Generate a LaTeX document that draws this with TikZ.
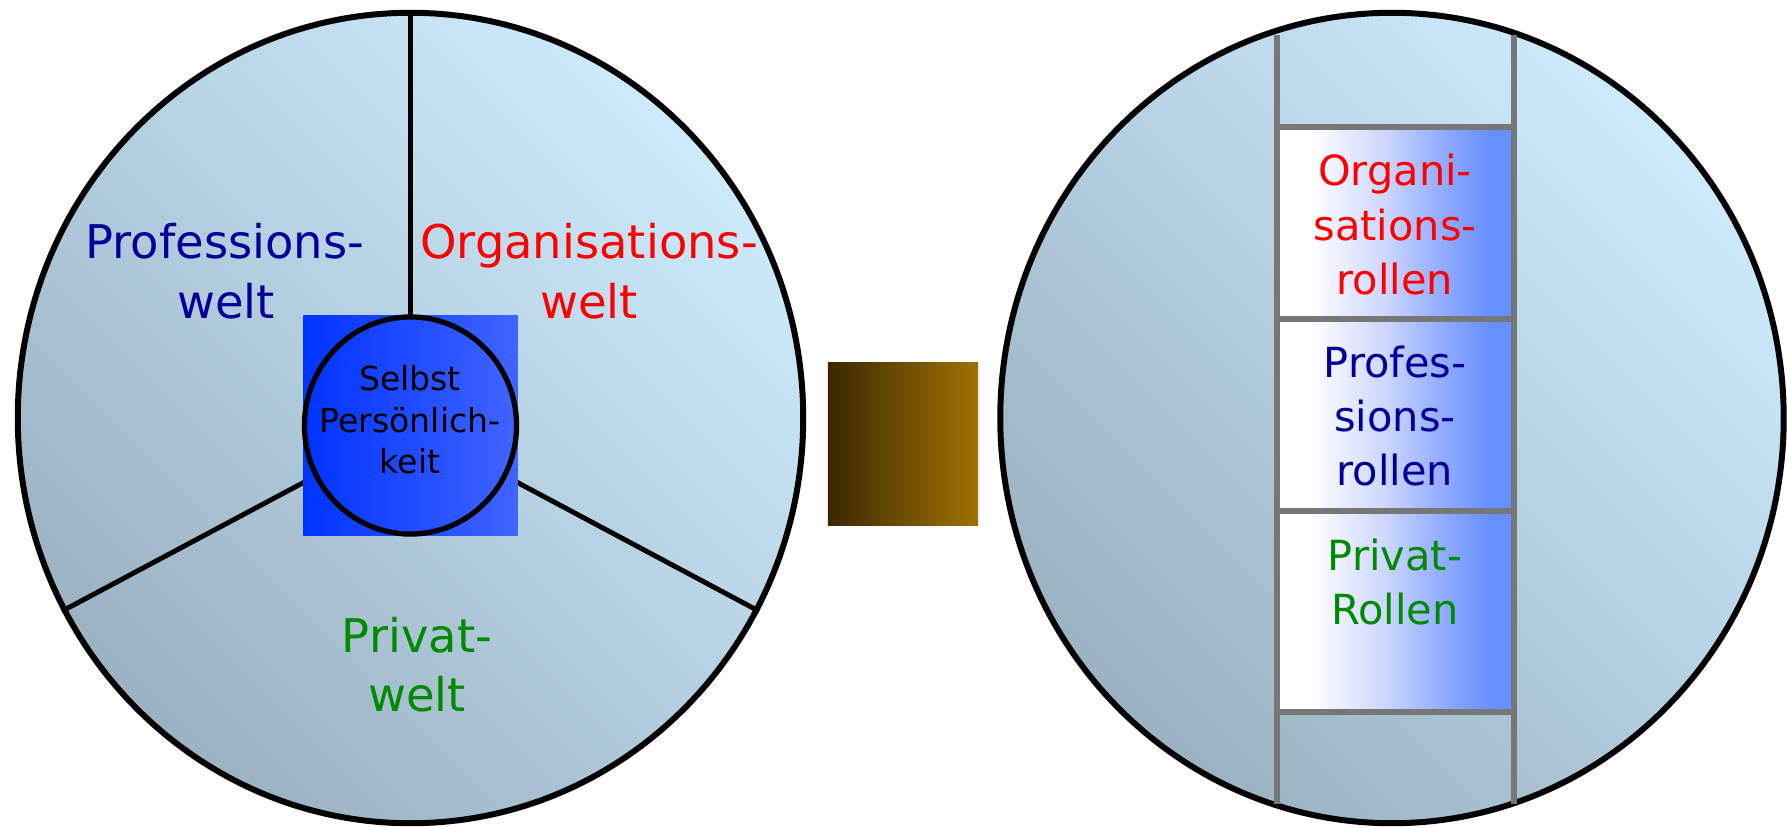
\documentclass[tikz,border=0pt]{standalone}
\usepackage{fontspec}
\setmainfont{DejaVu Sans}
\usetikzlibrary{shapes.geometric}
\definecolor{bgtop}{HTML}{CDEBFD}
\definecolor{bgbot}{HTML}{9AB2C2}
\definecolor{navy}{HTML}{000099}
\definecolor{grn}{HTML}{008A00}
\definecolor{rd}{HTML}{FF0000}
\definecolor{sqL}{HTML}{0033FF}
\definecolor{sqR}{HTML}{4064FF}
\definecolor{brL}{HTML}{3A2800}
\definecolor{brR}{HTML}{A07200}
\definecolor{railgray}{HTML}{777777}
\definecolor{rb}{HTML}{6690FF}
\definecolor{rbmid}{HTML}{CCD6FF}
\definecolor{rbmid2}{HTML}{95AEFF}
\pgfdeclarehorizontalshading{boxshade}{100bp}{color(0bp)=(white); color(32bp)=(white); color(48bp)=(rbmid); color(59bp)=(rbmid2); color(70bp)=(rb); color(100bp)=(rb)}
\tikzset{
  world/.style={ellipse, draw=black, line width=1.7pt, top color=bgtop, bottom color=bgbot, shading angle=-45, minimum width=7.85cm, minimum height=8.1cm, inner sep=0pt},
  spoke/.style={draw=black, line width=1.4pt},
  lbl/.style={anchor=base, inner sep=0pt, font=\fontsize{13.2}{16}\selectfont},
  boxlbl/.style={anchor=base, inner sep=0pt, font=\fontsize{11.8}{14}\selectfont},
  selflbl/.style={anchor=base, inner sep=0pt, font=\fontsize{9.4}{11}\selectfont},
  rail/.style={draw=railgray, line width=1.8pt},
  rolebox/.style={rectangle, shade, shading=boxshade, minimum width=2.37cm, inner sep=0pt},
  bluefill/.style={left color=sqL, right color=sqR, inner sep=0pt}
}
\begin{document}
\begin{tikzpicture}[x=0.01cm, y=-0.01cm]
\useasboundingbox (0,0) rectangle (1787,827);
% left world
\node[world] (L) at (410.5,418) {};
\coordinate (c) at (410.5,425.5);
\draw[spoke] (L.north) -- (c);
\draw[spoke] (L.209) -- (c);
\draw[spoke] (L.-29) -- (c);
\node[bluefill, rectangle, minimum width=2.14cm, minimum height=2.19cm] (Q) at (c) {};
\node[bluefill, ellipse, draw=black, line width=1.5pt, minimum width=2.12cm, minimum height=2.17cm] (S) at (c) {};
\node[selflbl] (s1) at (410,390) {Selbst};
\node[selflbl] (s2) at (410,432) {Persönlich-};
\node[selflbl] (s3) at (410,473) {keit};
\node[lbl, text=navy] (p1) at (225,258) {Professions-};
\node[lbl, text=navy] (p2) at (226,318) {welt};
\node[lbl, text=rd] (o1) at (589,258) {Organisations-};
\node[lbl, text=rd] (o2) at (589,318) {welt};
\node[lbl, text=grn] (v1) at (417,652) {Privat-};
\node[lbl, text=grn] (v2) at (417,711) {welt};
% middle block
\node[rectangle, left color=brL, right color=brR, minimum width=1.5cm, minimum height=1.62cm, inner sep=0pt] (M) at (903,444) {};
% right world
\node[world, minimum width=7.83cm] (R) at (1392,418) {};
\node[rolebox, minimum height=1.92cm] (B1) at (1395.5,224) {};
\node[rolebox, minimum height=1.92cm] (B2) at (1395.5,416) {};
\node[rolebox, minimum height=1.99cm] (B3) at (1395.5,611.5) {};
\coordinate (r1t) at (1277,35);
\coordinate (r1b) at (1277,804);
\coordinate (r2t) at (1514,35);
\coordinate (r2b) at (1514,804);
\draw[rail] (r1t) -- (r1b);
\draw[rail] (r2t) -- (r2b);
\draw[rail] (B1.north west) -- (B1.north east);
\draw[rail] (B2.north west) -- (B2.north east);
\draw[rail] (B3.north west) -- (B3.north east);
\draw[rail] (B3.south west) -- (B3.south east);
\node[boxlbl, text=rd] (t1) at (1395,185) {Organi-};
\node[boxlbl, text=rd] (t2) at (1395,240) {sations-};
\node[boxlbl, text=rd] (t3) at (1395,294) {rollen};
\node[boxlbl, text=navy] (t4) at (1395,377) {Profes-};
\node[boxlbl, text=navy] (t5) at (1395,431) {sions-};
\node[boxlbl, text=navy] (t6) at (1395,485) {rollen};
\node[boxlbl, text=grn] (t7) at (1395,570) {Privat-};
\node[boxlbl, text=grn] (t8) at (1395,624) {Rollen};
\end{tikzpicture}
\end{document}
